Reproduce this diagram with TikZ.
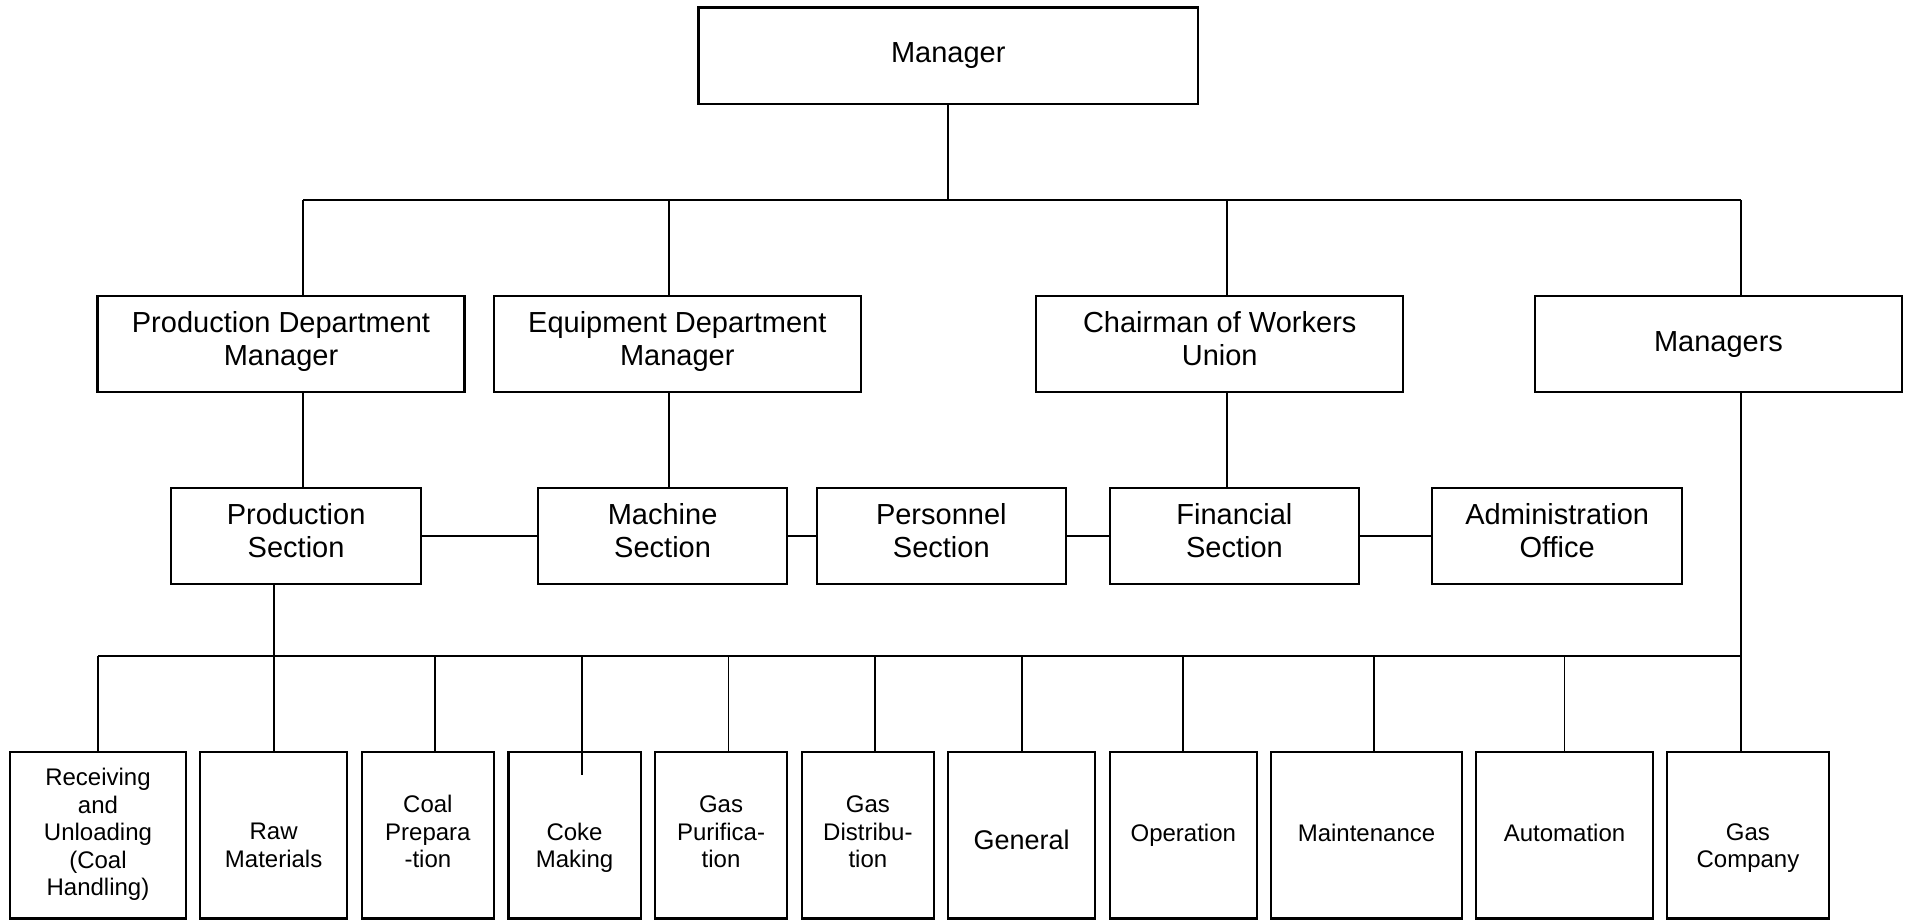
\documentclass[tikz,border=0pt]{standalone}
\usepackage{fontspec}
\setmainfont{Liberation Sans}
\begin{document}
\begin{tikzpicture}[x=1pt, y=-1pt,
  box/.style={draw, line width=2.1pt, inner sep=0pt, align=center,
    execute at begin node=\strut, execute at end node=\strut},
  big/.style={font=\fontsize{29}{33.5}\selectfont},
  small/.style={font=\fontsize{24}{27.5}\selectfont},
  mid/.style={font=\fontsize{27}{31}\selectfont},
  link/.style={line width=1.8pt},
  lvltwo/.style={box, big, minimum width=367pt, minimum height=96pt,
    execute at begin node={\rule{0pt}{25.9pt}}},
  lvlthree/.style={box, big, minimum width=249.5pt, minimum height=96pt,
    execute at begin node={\rule{0pt}{28.3pt}}},
  unit/.style={draw, line width=2.1pt, inner sep=0pt, minimum height=166.8pt},
  unittext/.style={small, align=center, inner sep=0pt,
    execute at begin node=\strut, execute at end node=\strut}]
\useasboundingbox (0,0) rectangle (1910,920);

% top
\node[box, big, minimum width=499.5pt, minimum height=96.5pt] (mgr) at (948.25,55.75) {Manager};

% department level
\node[lvltwo] (pdm)  at (281,343.7)    {Production Department\\Manager};
\node[lvltwo] (edm)  at (677.3,343.7)  {Equipment Department\\Manager};
\node[lvltwo] (cwu)  at (1219.7,343.7) {Chairman of Workers\\Union};
\node[lvltwo] (mgrs) at (1718.5,343.7) {Managers};

% section level
\node[lvlthree] (ps)   at (296.1,535.7)  {Production\\Section};
\node[lvlthree] (ms)   at (662.6,535.7)  {Machine\\Section};
\node[lvlthree] (pers) at (941.3,535.7)  {Personnel\\Section};
\node[lvlthree] (fin)  at (1234.4,535.7) {Financial\\Section};
\node[lvlthree] (adm)  at (1557.15,535.7){Administration\\Office};

% workshop level
\node[unit, minimum width=176.4pt] (b1)  at (98,835.1)     {};
\node[unit, minimum width=147.3pt] (b2)  at (273.65,835.1) {};
\node[unit, minimum width=132.6pt] (b3)  at (427.9,835.1)  {};
\node[unit, minimum width=132.1pt] (b4)  at (574.55,835.1) {};
\node[unit, minimum width=132.6pt] (b5)  at (721,835.1)    {};
\node[unit, minimum width=132.6pt] (b6)  at (867.9,835.1)  {};
\node[unit, minimum width=147.4pt] (b7)  at (1021.7,835.1) {};
\node[unit, minimum width=147.4pt] (b8)  at (1183.3,835.1) {};
\node[unit, minimum width=191.4pt] (b9)  at (1366.5,835.1) {};
\node[unit, minimum width=176.6pt] (b10) at (1564.5,835.1) {};
\node[unit, minimum width=162.1pt] (b11) at (1747.95,835.1){};

\node[unittext] (t1)  at (98,836.4)     {Receiving\\and\\Unloading\\(Coal\\Handling)};
\node[unittext] (t2)  at (273.65,849.5) {Raw\\Materials};
\node[unittext] (t3)  at (427.9,835.8)  {Coal\\Prepara\\-tion};
\node[unittext] (t4)  at (574.55,849.5) {Coke\\Making};
\node[unittext] (t5)  at (721,835.8)    {Gas\\Purifica-\\tion};
\node[unittext] (t6)  at (867.9,835.8)  {Gas\\Distribu-\\tion};
\node[unittext, mid] (t7) at (1021.7,843.5) {General};
\node[unittext] (t8)  at (1183.3,835.8) {Operation};
\node[unittext] (t9)  at (1366.5,835.8) {Maintenance};
\node[unittext] (t10) at (1564.5,835.8) {Automation};
\node[unittext] (t11) at (1747.95,849.5){Gas\\Company};

% upper bus and its junctions
\coordinate (a1) at (303.3,200);
\coordinate (a2) at (668.7,200);
\coordinate (a3) at (1226.7,200);
\coordinate (a4) at (1740.7,200);

\draw[link] (mgr.south) -- (mgr.south |- a1);
\draw[link] (a1) -- (a4);
\draw[link] (a1) -- (a1 |- pdm.north);
\draw[link] (a2) -- (a2 |- edm.north);
\draw[link] (a3) -- (a3 |- cwu.north);
\draw[link] (a4) -- (a4 |- mgrs.north);

% department to section
\draw[link] (a1 |- pdm.south) -- (a1 |- ps.north);
\draw[link] (a2 |- edm.south) -- (a2 |- ms.north);
\draw[link] (a3 |- cwu.south) -- (a3 |- fin.north);

% links between sections
\draw[link] (ps) -- (ms);
\draw[link] (ms) -- (pers);
\draw[link] (pers) -- (fin);
\draw[link] (fin) -- (adm);

% lower bus and its junctions
\coordinate (j1)  at (97.8,655.7);
\coordinate (j2)  at (273.7,655.7);
\coordinate (j3)  at (435.3,655.7);
\coordinate (j4)  at (581.7,655.7);
\coordinate (j5)  at (728.4,655.7);
\coordinate (j6)  at (875.3,655.7);
\coordinate (j7)  at (1021.7,655.7);
\coordinate (j8)  at (1183.3,655.7);
\coordinate (j9)  at (1373.9,655.7);
\coordinate (j10) at (1564.5,655.7);
\coordinate (j11) at (1740.7,655.7);

\draw[link] (j2 |- ps.south) -- (j2);
\draw[link] (a4 |- mgrs.south) -- (a4 |- b11.north);
\draw[link] (j1) -- (j11);
\draw[link] (j1) -- (j1 |- b1.north);
\draw[link] (j2) -- (j2 |- b2.north);
\draw[link] (j3) -- (j3 |- b3.north);
\draw[link] (j4) -- (j4 |- b4.north) -- ++(0,24.3);
\draw[link] (j5) -- (j5 |- b5.north);
\draw[link] (j6) -- (j6 |- b6.north);
\draw[link] (j7) -- (j7 |- b7.north);
\draw[link] (j8) -- (j8 |- b8.north);
\draw[link] (j9) -- (j9 |- b9.north);
\draw[link] (j10) -- (j10 |- b10.north);
\end{tikzpicture}
\end{document}
